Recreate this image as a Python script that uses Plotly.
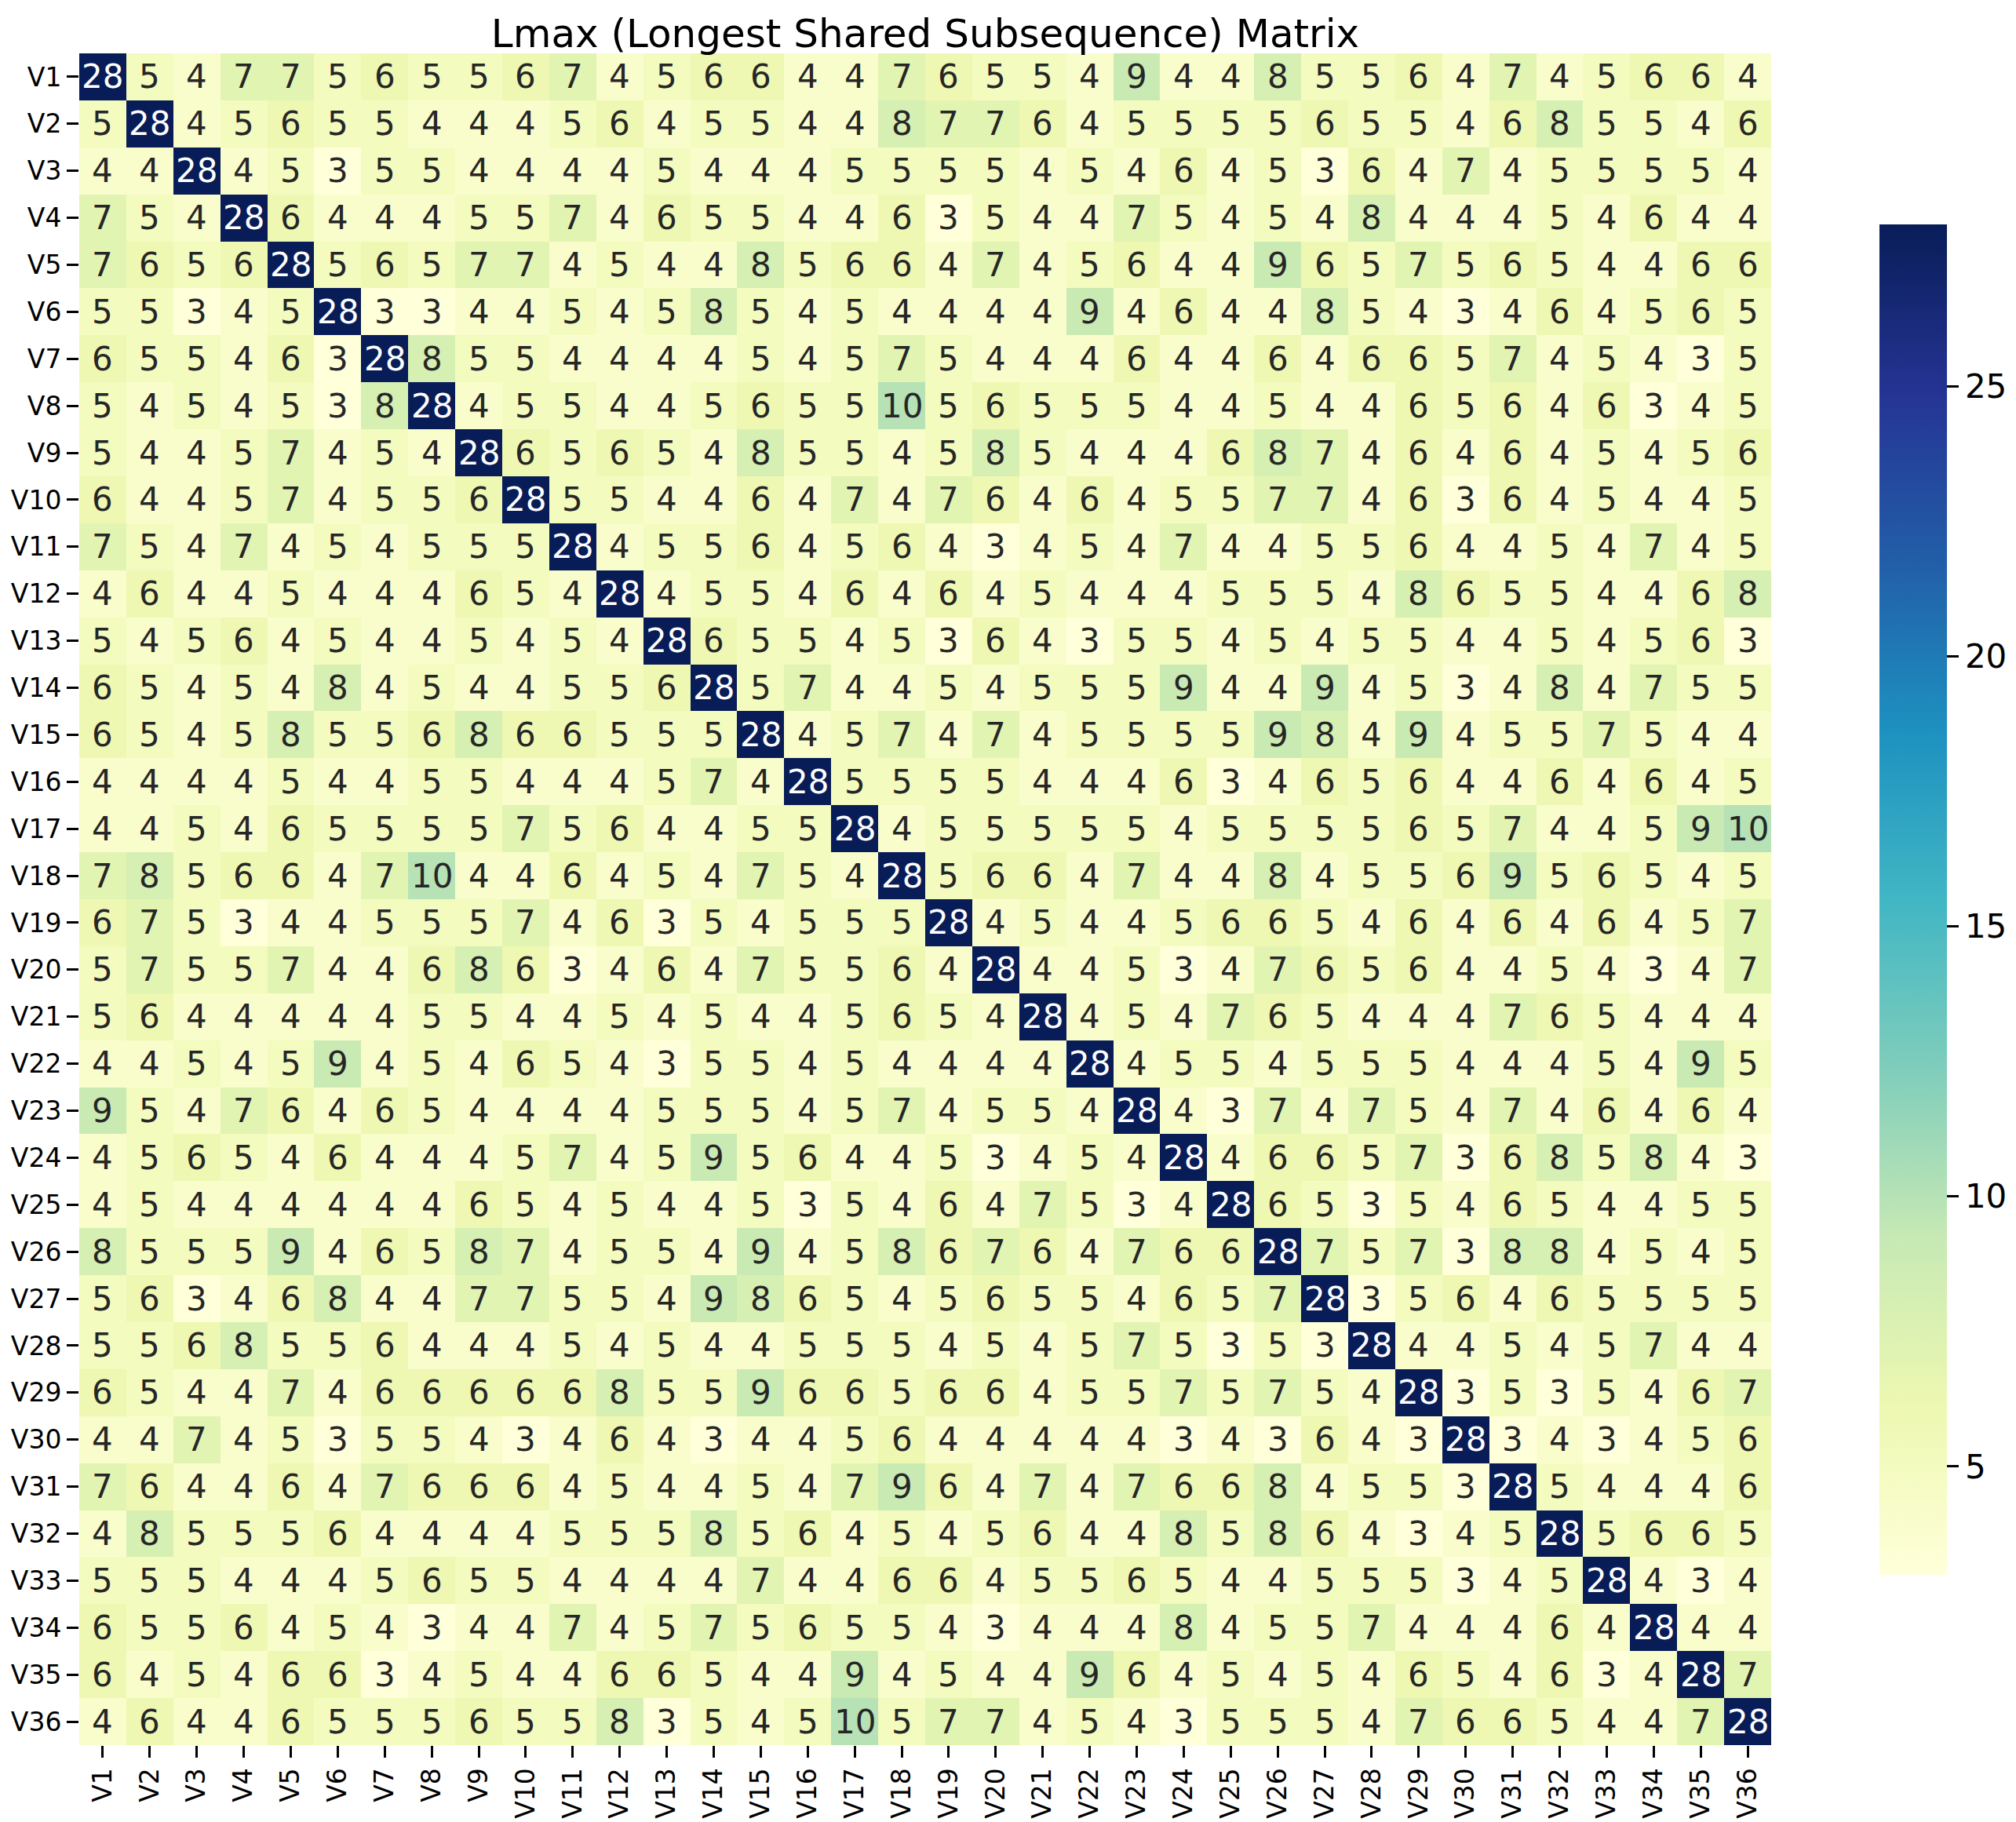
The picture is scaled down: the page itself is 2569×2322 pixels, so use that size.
import plotly.graph_objects as go

labels = [f"V{i}" for i in range(1, 37)]

r01 = [28,5,4,7,7,5,6,5,5,6,7,4,5,6,6,4,4,7,6,5,5,4,9,4,4,8,5,5,6,4,7,4,5,6,6,4]
r02 = [5,28,4,5,6,5,5,4,4,4,5,6,4,5,5,4,4,8,7,7,6,4,5,5,5,5,6,5,5,4,6,8,5,5,4,6]
r03 = [4,4,28,4,5,3,5,5,4,4,4,4,5,4,4,4,5,5,5,5,4,5,4,6,4,5,3,6,4,7,4,5,5,5,5,4]
r04 = [7,5,4,28,6,4,4,4,5,5,7,4,6,5,5,4,4,6,3,5,4,4,7,5,4,5,4,8,4,4,4,5,4,6,4,4]
r05 = [7,6,5,6,28,5,6,5,7,7,4,5,4,4,8,5,6,6,4,7,4,5,6,4,4,9,6,5,7,5,6,5,4,4,6,6]
r06 = [5,5,3,4,5,28,3,3,4,4,5,4,5,8,5,4,5,4,4,4,4,9,4,6,4,4,8,5,4,3,4,6,4,5,6,5]
r07 = [6,5,5,4,6,3,28,8,5,5,4,4,4,4,5,4,5,7,5,4,4,4,6,4,4,6,4,6,6,5,7,4,5,4,3,5]
r08 = [5,4,5,4,5,3,8,28,4,5,5,4,4,5,6,5,5,10,5,6,5,5,5,4,4,5,4,4,6,5,6,4,6,3,4,5]
r09 = [5,4,4,5,7,4,5,4,28,6,5,6,5,4,8,5,5,4,5,8,5,4,4,4,6,8,7,4,6,4,6,4,5,4,5,6]
r10 = [6,4,4,5,7,4,5,5,6,28,5,5,4,4,6,4,7,4,7,6,4,6,4,5,5,7,7,4,6,3,6,4,5,4,4,5]
r11 = [7,5,4,7,4,5,4,5,5,5,28,4,5,5,6,4,5,6,4,3,4,5,4,7,4,4,5,5,6,4,4,5,4,7,4,5]
r12 = [4,6,4,4,5,4,4,4,6,5,4,28,4,5,5,4,6,4,6,4,5,4,4,4,5,5,5,4,8,6,5,5,4,4,6,8]
r13 = [5,4,5,6,4,5,4,4,5,4,5,4,28,6,5,5,4,5,3,6,4,3,5,5,4,5,4,5,5,4,4,5,4,5,6,3]
r14 = [6,5,4,5,4,8,4,5,4,4,5,5,6,28,5,7,4,4,5,4,5,5,5,9,4,4,9,4,5,3,4,8,4,7,5,5]
r15 = [6,5,4,5,8,5,5,6,8,6,6,5,5,5,28,4,5,7,4,7,4,5,5,5,5,9,8,4,9,4,5,5,7,5,4,4]
r16 = [4,4,4,4,5,4,4,5,5,4,4,4,5,7,4,28,5,5,5,5,4,4,4,6,3,4,6,5,6,4,4,6,4,6,4,5]
r17 = [4,4,5,4,6,5,5,5,5,7,5,6,4,4,5,5,28,4,5,5,5,5,5,4,5,5,5,5,6,5,7,4,4,5,9,10]
r18 = [7,8,5,6,6,4,7,10,4,4,6,4,5,4,7,5,4,28,5,6,6,4,7,4,4,8,4,5,5,6,9,5,6,5,4,5]
r19 = [6,7,5,3,4,4,5,5,5,7,4,6,3,5,4,5,5,5,28,4,5,4,4,5,6,6,5,4,6,4,6,4,6,4,5,7]
r20 = [5,7,5,5,7,4,4,6,8,6,3,4,6,4,7,5,5,6,4,28,4,4,5,3,4,7,6,5,6,4,4,5,4,3,4,7]
r21 = [5,6,4,4,4,4,4,5,5,4,4,5,4,5,4,4,5,6,5,4,28,4,5,4,7,6,5,4,4,4,7,6,5,4,4,4]
r22 = [4,4,5,4,5,9,4,5,4,6,5,4,3,5,5,4,5,4,4,4,4,28,4,5,5,4,5,5,5,4,4,4,5,4,9,5]
r23 = [9,5,4,7,6,4,6,5,4,4,4,4,5,5,5,4,5,7,4,5,5,4,28,4,3,7,4,7,5,4,7,4,6,4,6,4]
r24 = [4,5,6,5,4,6,4,4,4,5,7,4,5,9,5,6,4,4,5,3,4,5,4,28,4,6,6,5,7,3,6,8,5,8,4,3]
r25 = [4,5,4,4,4,4,4,4,6,5,4,5,4,4,5,3,5,4,6,4,7,5,3,4,28,6,5,3,5,4,6,5,4,4,5,5]
r26 = [8,5,5,5,9,4,6,5,8,7,4,5,5,4,9,4,5,8,6,7,6,4,7,6,6,28,7,5,7,3,8,8,4,5,4,5]
r27 = [5,6,3,4,6,8,4,4,7,7,5,5,4,9,8,6,5,4,5,6,5,5,4,6,5,7,28,3,5,6,4,6,5,5,5,5]
r28 = [5,5,6,8,5,5,6,4,4,4,5,4,5,4,4,5,5,5,4,5,4,5,7,5,3,5,3,28,4,4,5,4,5,7,4,4]
r29 = [6,5,4,4,7,4,6,6,6,6,6,8,5,5,9,6,6,5,6,6,4,5,5,7,5,7,5,4,28,3,5,3,5,4,6,7]
r30 = [4,4,7,4,5,3,5,5,4,3,4,6,4,3,4,4,5,6,4,4,4,4,4,3,4,3,6,4,3,28,3,4,3,4,5,6]
r31 = [7,6,4,4,6,4,7,6,6,6,4,5,4,4,5,4,7,9,6,4,7,4,7,6,6,8,4,5,5,3,28,5,4,4,4,6]
r32 = [4,8,5,5,5,6,4,4,4,4,5,5,5,8,5,6,4,5,4,5,6,4,4,8,5,8,6,4,3,4,5,28,5,6,6,5]
r33 = [5,5,5,4,4,4,5,6,5,5,4,4,4,4,7,4,4,6,6,4,5,5,6,5,4,4,5,5,5,3,4,5,28,4,3,4]
r34 = [6,5,5,6,4,5,4,3,4,4,7,4,5,7,5,6,5,5,4,3,4,4,4,8,4,5,5,7,4,4,4,6,4,28,4,4]
r35 = [6,4,5,4,6,6,3,4,5,4,4,6,6,5,4,4,9,4,5,4,4,9,6,4,5,4,5,4,6,5,4,6,3,4,28,7]
r36 = [4,6,4,4,6,5,5,5,6,5,5,8,3,5,4,5,10,5,7,7,4,5,4,3,5,5,5,4,7,6,6,5,4,4,7,28]

matrix = [r01, r02, r03, r04, r05, r06, r07, r08, r09, r10, r11, r12,
          r13, r14, r15, r16, r17, r18, r19, r20, r21, r22, r23, r24,
          r25, r26, r27, r28, r29, r30, r31, r32, r33, r34, r35, r36]

cbar_ticks = [5, 10, 15, 20, 25]
zmin, zmax = 3, 28

ylgnbu = ['#ffffd9', '#edf8b1', '#c7e9b4', '#7fcdbb', '#41b6c4',
          '#1d91c0', '#225ea8', '#253494', '#081d58']
cscale = [[i / (len(ylgnbu) - 1), c] for i, c in enumerate(ylgnbu)]

W, H = 2569, 2322
L, R, T, B = 101, 312, 68, 98
PW = W - L - R

fig = go.Figure()
fig.add_trace(go.Heatmap(
    z=matrix, x=labels, y=labels,
    colorscale=cscale, zmin=zmin, zmax=zmax,
    xgap=0, ygap=0,
    colorbar=dict(
        x=(2395 - L) / PW, xanchor='left', xpad=0,
        y=0.5, yanchor='middle', ypad=0,
        thickness=86, len=1721, lenmode='pixels',
        outlinewidth=0,
        tickvals=cbar_ticks, ticks='outside', ticklen=15, tickwidth=3,
        tickcolor='black',
        tickfont=dict(family='DejaVu Sans', size=42, color='black'),
    ),
    hoverinfo='skip',
))

thr = zmin + (zmax - zmin) * 0.6
annots = []
for i, row in enumerate(matrix):
    for j, v in enumerate(row):
        annots.append(dict(
            x=labels[j], y=labels[i], text=str(v), showarrow=False,
            font=dict(family='DejaVu Sans', size=42,
                      color='white' if v > thr else '#262626'),
            xref='x', yref='y',
        ))

fig.update_layout(
    width=W, height=H,
    margin=dict(l=L, r=R, t=T, b=B, pad=0, autoexpand=False),
    paper_bgcolor='white', plot_bgcolor='white',
    title=dict(text='Lmax (Longest Shared Subsequence) Matrix',
               x=(L + PW / 2) / W, xanchor='center',
               y=1 - 60 / H, yanchor='bottom', yref='container',
               font=dict(family='DejaVu Sans', size=50, color='black')),
    annotations=annots,
    font=dict(family='DejaVu Sans', color='black'),
)
fig.update_xaxes(
    tickangle=-90, ticks='outside', ticklen=15, tickwidth=3, tickcolor='black',
    showgrid=False, zeroline=False, showline=False, automargin=False,
    tickfont=dict(family='DejaVu Sans', size=33, color='black'),
)
fig.update_yaxes(
    autorange='reversed', ticks='outside', ticklen=15, tickwidth=3, tickcolor='black',
    showgrid=False, zeroline=False, showline=False, automargin=False,
    tickfont=dict(family='DejaVu Sans', size=33, color='black'),
)

fig.write_html(
    "out.html",
    config={'displayModeBar': False},
    post_script="document.body.style.margin='0';document.body.style.overflow='hidden';",
)
